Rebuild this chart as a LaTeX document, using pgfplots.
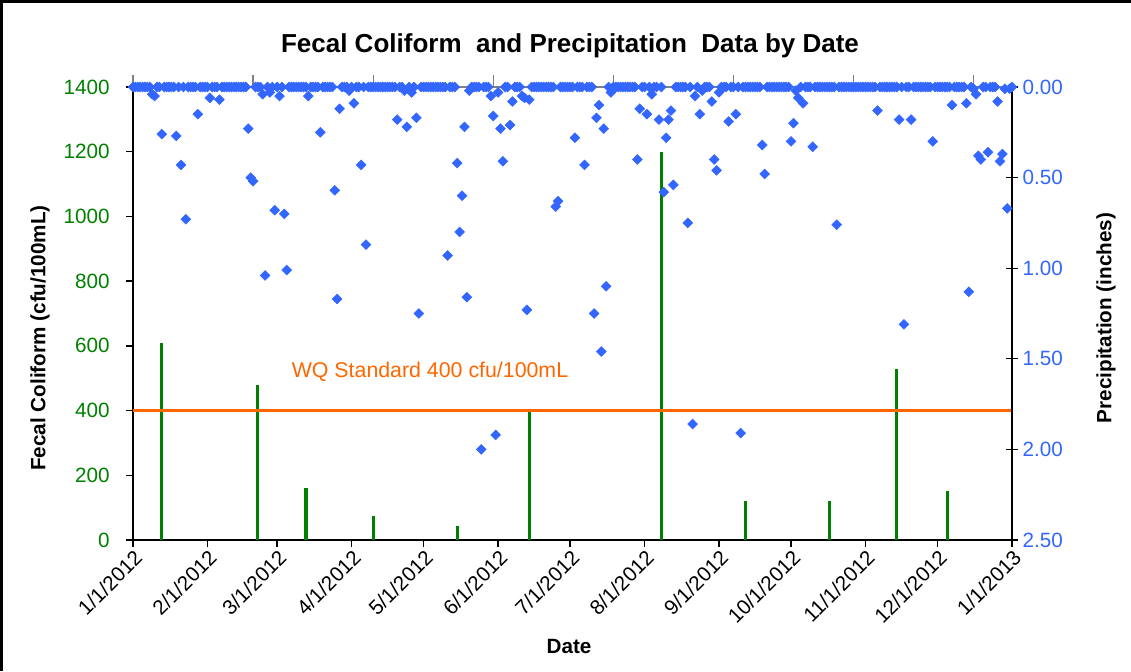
\documentclass[border=0pt]{standalone}
\usepackage{fontspec}
\setmainfont{Liberation Sans}
\usepackage{pgfplots}
\pgfplotsset{compat=1.18}
\definecolor{pblue}{RGB}{51,102,255}
\definecolor{fgreen}{RGB}{0,128,0}
\definecolor{wqorange}{RGB}{255,102,0}
\begin{document}
\begin{tikzpicture}
\begin{axis}[at={(0,0)},anchor=south west,scale only axis,
  width=659.25pt,height=339.75pt,
  xmin=0,xmax=366,ymin=0,ymax=1400,
  axis x line*=bottom,axis y line*=left,
  axis line style={-,black,line width=1.5pt},
  xtick={0,31,60,91,121,152,182,213,244,274,305,335,366},
  xticklabels={1/1/2012,2/1/2012,3/1/2012,4/1/2012,5/1/2012,6/1/2012,7/1/2012,8/1/2012,9/1/2012,10/1/2012,11/1/2012,12/1/2012,1/1/2013},
  x tick label style={rotate=45,anchor=north east,inner sep=1pt},
  ytick={0,200,...,1400},
  yticklabel style={text=fgreen,xshift=-9pt},
  tick align=outside,major tick length=5pt,
  tick style={black,line width=1pt},
  font=\fontsize{15.5}{18}\selectfont,
  /pgf/number format/assume math mode=true,
  /pgf/number format/1000 sep={},
  clip=false]
\addplot[ycomb,fgreen,line width=2.4pt,mark=none] coordinates {(12,610)(52,480)(72,160)(100,73)(135,43)(165,400)(220,1200)(255,120)(290,120)(318,530)(339,150)};
\addplot[wqorange,line width=2.4pt,mark=none] coordinates {(0,400)(366,400)};
\end{axis}
\begin{axis}[at={(0,0)},anchor=south west,scale only axis,
  width=659.25pt,height=339.75pt,
  xmin=0,xmax=366,ymin=0,ymax=2.5,y dir=reverse,
  axis x line*=top,axis y line*=right,
  x axis line style={-,gray,line width=1pt},
  y axis line style={-,black,line width=1.5pt},
  xtick={0,50,...,350},xticklabels={},
  xtick style={gray,line width=1pt},
  xtick align=outside,
  ytick={0,0.5,1,1.5,2,2.5},
  ytick align=center,major tick length=9pt,
  ytick style={black,line width=1pt},
  yticklabel style={text=pblue,/pgf/number format/.cd,fixed,fixed zerofill,precision=2},
  font=\fontsize{15.5}{18}\selectfont,
  /pgf/number format/assume math mode=true,
  clip=false]
\addplot[only marks,mark=square*,mark size=2.6pt,pblue,mark options={rotate=45,draw=pblue,fill=pblue}] coordinates {
(0,0)(1,0)(2,0)(3,0)(4,0)(5,0)(6,0)(7,0)(8,0.04)(9,0.05)
(10,0)(11,0)(12,0.26)(13,0)(14,0)(15,0)(16,0)(17,0)(18,0.27)(19,0)
(20,0.43)(21,0)(22,0.73)(23,0)(24,0)(25,0)(26,0)(27,0.15)(28,0)(29,0)
(30,0)(31,0)(32,0.06)(33,0)(34,0)(35,0)(36,0.07)(37,0)(38,0)(39,0)
(40,0)(41,0)(42,0)(43,0)(44,0)(45,0)(46,0)(47,0)(48,0.23)(49,0.50)
(50,0.52)(51,0)(52,0)(53,0)(54,0.04)(55,1.04)(56,0)(57,0.03)(58,0)(59,0.68)
(60,0)(61,0.05)(62,0)(63,0.70)(64,1.01)(65,0)(66,0)(67,0)(68,0)(69,0)
(70,0)(71,0)(72,0)(73,0.05)(74,0)(75,0)(76,0)(77,0)(78,0.25)(79,0)
(80,0)(81,0)(82,0)(83,0)(84,0.57)(85,1.17)(86,0.12)(87,0)(88,0)(89,0)
(90,0.02)(91,0)(92,0.09)(93,0)(94,0)(95,0.43)(96,0)(97,0.87)(98,0)(99,0)
(100,0)(101,0)(102,0)(103,0)(104,0)(105,0)(106,0)(107,0)(108,0)(109,0)
(110,0.18)(111,0)(112,0)(113,0.02)(114,0.22)(115,0)(116,0.03)(117,0)(118,0.17)(119,1.25)
(120,0)(121,0)(122,0)(123,0)(124,0)(125,0)(126,0)(127,0)(128,0)(129,0)
(130,0)(131,0.93)(132,0)(133,0)(134,0)(135,0.42)(136,0.80)(137,0.60)(138,0.22)(139,1.16)
(140,0.02)(141,0)(142,0)(143,0)(144,0)(145,2.00)(146,0)(147,0)(148,0)(149,0.05)
(150,0.16)(151,1.92)(152,0.03)(153,0.23)(154,0.41)(155,0)(156,0)(157,0.21)(158,0.08)(159,0)
(160,0)(161,0)(162,0.05)(163,0.06)(164,1.23)(165,0.07)(166,0)(167,0)(168,0)(169,0)
(170,0)(171,0)(172,0)(173,0)(174,0)(175,0)(176,0.66)(177,0.63)(178,0)(179,0)
(180,0)(181,0)(182,0)(183,0)(184,0.28)(185,0)(186,0)(187,0)(188,0.43)(189,0)
(190,0)(191,0)(192,1.25)(193,0.17)(194,0.10)(195,1.46)(196,0.23)(197,1.10)(198,0)(199,0.03)
(200,0)(201,0)(202,0)(203,0)(204,0)(205,0)(206,0)(207,0)(208,0)(209,0)
(210,0.40)(211,0.12)(212,0)(213,0)(214,0.15)(215,0)(216,0.04)(217,0)(218,0)(219,0.18)
(220,0)(221,0.58)(222,0.28)(223,0.18)(224,0.13)(225,0.54)(226,0)(227,0)(228,0)(229,0)
(230,0)(231,0.75)(232,0)(233,1.86)(234,0.05)(235,0)(236,0.15)(237,0.02)(238,0)(239,0)
(240,0)(241,0.08)(242,0.40)(243,0.46)(244,0.03)(245,0)(246,0)(247,0)(248,0.19)(249,0)
(250,0)(251,0.15)(252,0)(253,1.91)(254,0)(255,0)(256,0)(257,0)(258,0)(259,0)
(260,0)(261,0)(262,0.32)(263,0.48)(264,0)(265,0)(266,0)(267,0)(268,0)(269,0)
(270,0)(271,0)(272,0)(273,0)(274,0.30)(275,0.20)(276,0.02)(277,0.06)(278,0)(279,0.09)
(280,0)(281,0)(282,0)(283,0.33)(284,0)(285,0)(286,0)(287,0)(288,0)(289,0)
(290,0)(291,0)(292,0)(293,0.76)(294,0)(295,0)(296,0)(297,0)(298,0)(299,0)
(300,0)(301,0)(302,0)(303,0)(304,0)(305,0)(306,0)(307,0)(308,0)(309,0)
(310,0.13)(311,0)(312,0)(313,0)(314,0)(315,0)(316,0)(317,0)(318,0)(319,0.18)
(320,0)(321,1.31)(322,0)(323,0)(324,0.18)(325,0)(326,0)(327,0)(328,0)(329,0)
(330,0)(331,0)(332,0)(333,0.30)(334,0)(335,0)(336,0)(337,0)(338,0)(339,0)
(340,0)(341,0.10)(342,0)(343,0)(344,0)(345,0)(346,0)(347,0.09)(348,1.13)(349,0)
(350,0.01)(351,0.04)(352,0.38)(353,0.40)(354,0)(355,0)(356,0.36)(357,0)(358,0)(359,0)
(360,0.08)(361,0.41)(362,0.37)(363,0.01)(364,0.67)(365,0.01)(366,0)
};
\end{axis}
\node[font=\fontsize{19.5}{22}\selectfont\bfseries] at (327.75pt,370.5pt) {Fecal Coliform\ \ and Precipitation\ \ Data by Date};
\node[font=\fontsize{15.5}{18}\selectfont\bfseries,rotate=90] at (-69.75pt,151.5pt) {Fecal Coliform (cfu/100mL)};
\node[font=\fontsize{15.5}{18}\selectfont\bfseries,rotate=90] at (729.75pt,166.5pt) {Precipitation (inches)};
\node[font=\fontsize{15.5}{18}\selectfont\bfseries] at (327pt,-79.5pt) {Date};
\node[font=\fontsize{16}{19}\selectfont,text=wqorange] at (222.75pt,126pt) {WQ Standard 400 cfu/100mL};
\draw[black,line width=2pt] (-98.75pt,-98.25pt) -- (-98.75pt,404pt) -- (748.5pt,404pt);
\pgfresetboundingbox
\path[use as bounding box] (-99.75pt,-98.25pt) rectangle (748.5pt,405pt);
\end{tikzpicture}
\end{document}
